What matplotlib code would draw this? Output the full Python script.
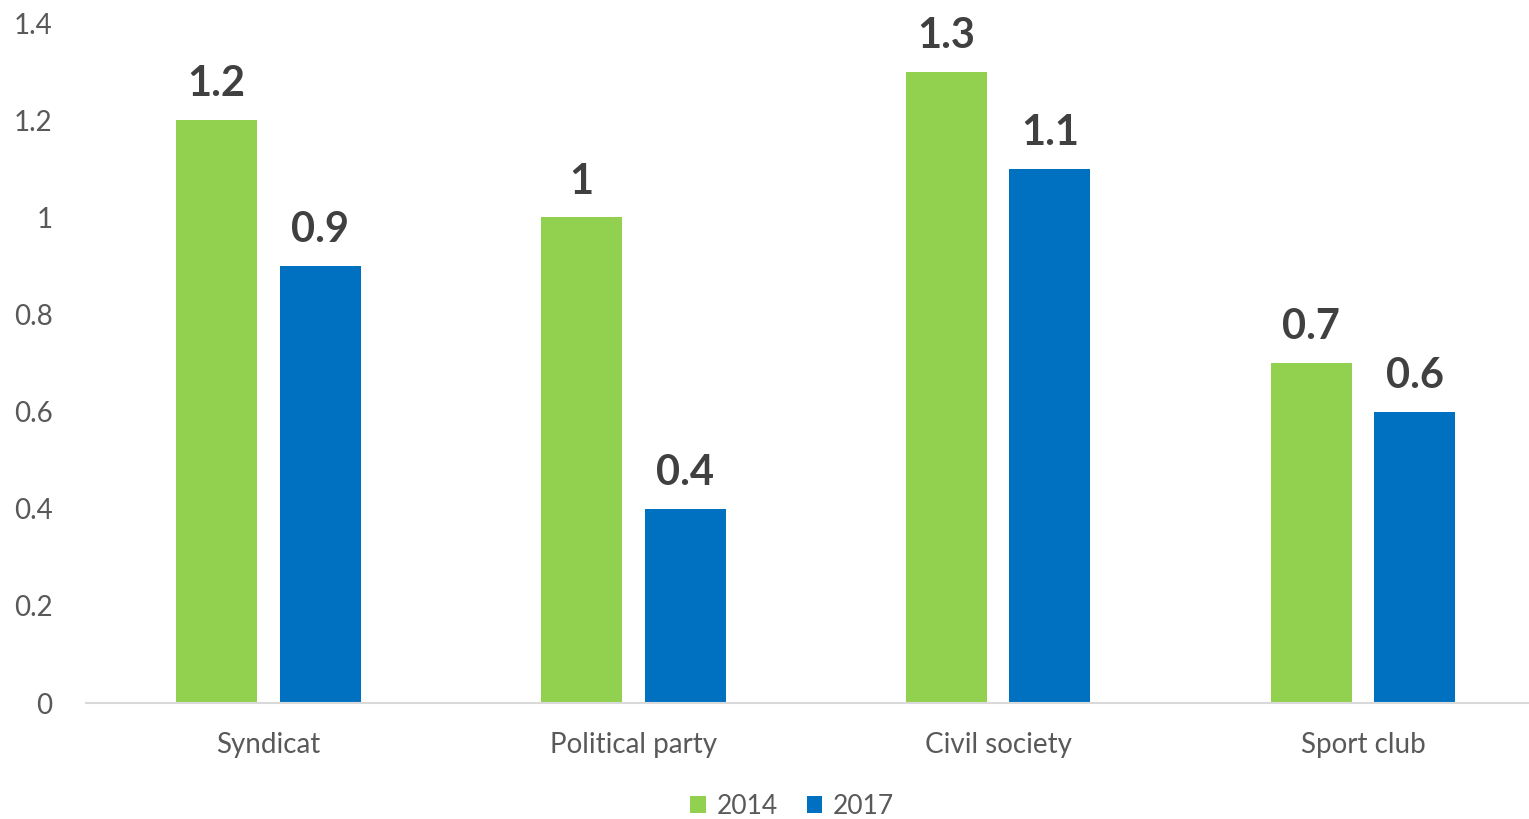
import numpy as np
import matplotlib.pyplot as plt

# data
categories = ['Syndicat', 'Political party', 'Civil society', 'Sport club']
vals_2014 = [1.2, 1.0, 1.3, 0.7]
vals_2017 = [0.9, 0.4, 1.1, 0.6]
labels_2014 = ['1.2', '1', '1.3', '0.7']
labels_2017 = ['0.9', '0.4', '1.1', '0.6']

plt.rcParams['font.family'] = ['Lato', 'DejaVu Sans']

fig = plt.figure(figsize=(15.29, 8.19), dpi=100)
ax = fig.add_axes([86/1529, 116/819, 1443/1529, 680/819])

x = np.arange(len(categories))
w = 0.222
b1 = ax.bar(x - 0.142, vals_2014, w, color='#92D050', label='2014')
b2 = ax.bar(x + 0.142, vals_2017, w, color='#0070C0', label='2017')

# value labels on top of the bars
for bars, labs in ((b1, labels_2014), (b2, labels_2017)):
    for bar, lab in zip(bars, labs):
        ax.annotate(lab, (bar.get_x() + bar.get_width()/2, bar.get_height()),
                    xytext=(0, 12), textcoords='offset points',
                    ha='center', va='bottom', fontsize=30, fontweight='bold',
                    color='#404040')

ax.set_xlim(-0.5, 3.455)
ax.set_ylim(0, 1.4)
ax.set_xticks(x)
ax.set_xticklabels(categories)
ax.set_yticks([0, 0.2, 0.4, 0.6, 0.8, 1, 1.2, 1.4])
ax.set_yticklabels(['0', '0.2', '0.4', '0.6', '0.8', '1', '1.2', '1.4'])
ax.tick_params(axis='both', length=0, labelsize=20, colors='#595959')
ax.tick_params(axis='x', pad=21)
ax.tick_params(axis='y', pad=24)
for s in ['top', 'right', 'left']:
    ax.spines[s].set_visible(False)
ax.spines['bottom'].set_color('#D9D9D9')
ax.spines['bottom'].set_linewidth(1.5)

fig.legend(loc='center', bbox_to_anchor=(792/1529, 1 - 806/819), ncol=2,
           frameon=False, fontsize=19, labelcolor='#595959',
           handlelength=0.6, handleheight=0.6, handletextpad=0.4,
           columnspacing=1.1)

fig.savefig('out.png', dpi=100)
